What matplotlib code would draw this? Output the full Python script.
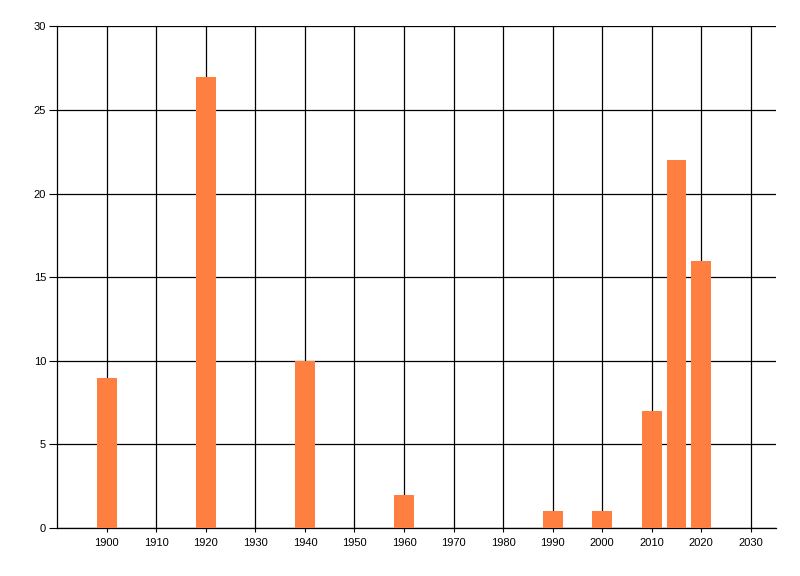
import matplotlib
matplotlib.use("Agg")
import matplotlib.pyplot as plt

# values
years = [1900, 1920, 1940, 1960, 1990, 2000, 2010, 2015, 2020]
counts = [9, 27, 10, 2, 1, 1, 7, 22, 16]
x_ticks = list(range(1900, 2031, 10))
y_ticks = [0, 5, 10, 15, 20, 25, 30]

plt.rcParams['font.family'] = ['Liberation Sans', 'DejaVu Sans']

fig = plt.figure(figsize=(8, 5.76), dpi=100)
ax = fig.add_axes([0.0716, 0.0833, 0.8978, 0.8707])

ax.bar(years, counts, width=4, color='#FF7F40', zorder=3)

ax.set_xlim(1890, 2035)
ax.set_ylim(0, 30)
ax.set_xticks(x_ticks)
ax.set_yticks(y_ticks)
ax.tick_params(axis='x', length=3, width=0.8, labelsize=8, pad=4, color='black')
ax.tick_params(axis='y', length=6, width=0.8, labelsize=8, pad=2, color='black')

ax.grid(True, color='black', linewidth=0.9, zorder=0)
ax.set_axisbelow(True)
for side in ['top', 'right']:
    ax.spines[side].set_visible(False)
for side in ['left', 'bottom']:
    ax.spines[side].set_linewidth(0.9)
    ax.spines[side].set_color('black')

fig.savefig('out.png', dpi=100)
